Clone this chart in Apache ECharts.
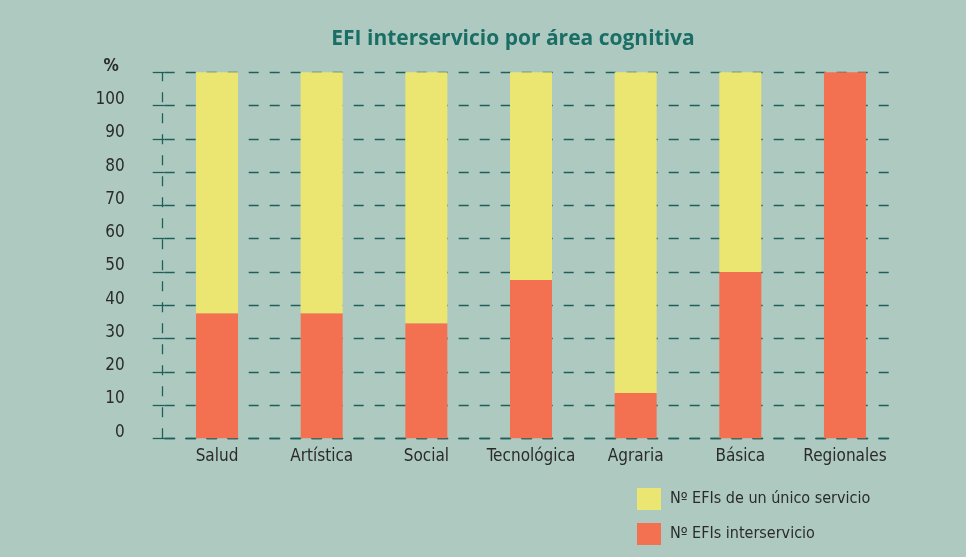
<!DOCTYPE html>
<html>
<head>
<meta charset="utf-8">
<script src="https://cdn.jsdelivr.net/npm/echarts@6/dist/echarts.min.js"></script>
<style>
html,body{margin:0;padding:0;background:#aecac0;}
#c{width:966px;height:557px;}
</style>
</head>
<body>
<div id="c"></div>
<script>
const categories = ['Salud','Artística','Social','Tecnológica','Agraria','Básica','Regionales'];
const interservicio = [37.6, 37.6, 34.6, 47.6, 13.6, 50, 110];
const unicoServicio = [72.4, 72.4, 75.4, 62.4, 96.4, 60, 0];
const yTickLabels = ['0','10','20','30','40','50','60','70','80','90','100','%'];

const FONT = '"Liberation Sans Narrow","DejaVu Sans Condensed","Roboto",sans-serif';
const grid = '#1f5f5a';
const chart = echarts.init(document.getElementById('c'));
chart.setOption({
  backgroundColor: '#aecac0',
  animation: false,
  title: {
    text: 'EFI interservicio por área cognitiva',
    left: 508, top: 24, textAlign: 'center',
    textStyle: {color: '#1b6e66', fontSize: 21, fontWeight: 'bold', fontFamily: '"Open Sans","Noto Sans",sans-serif'}
  },
  legend: {
    orient: 'vertical', left: 632, top: 483,
    itemWidth: 24, itemHeight: 22, itemGap: 13,
    icon: 'rect',
    data: ['Nº EFIs de un único servicio','Nº EFIs interservicio'],
    textStyle: {color: '#2b2b2b', fontSize: 16, fontFamily: FONT, padding: [0,0,0,4]}
  },
  grid: {left: 164.7, right: 68.7, top: 72.3, bottom: 118.7},
  xAxis: {
    type: 'category', data: categories,
    axisLine: {show: true, lineStyle: {color: grid, width: 1.3, type: [10,11]}},
    axisTick: {show: false},
    axisLabel: {color: '#2b2b2b', fontSize: 17, fontFamily: FONT, margin: 10, interval: 0}
  },
  yAxis: {
    type: 'value', min: 0, max: 110, interval: 10,
    axisLine: {show: false},
    axisTick: {show: true, length: 12, lineStyle: {color: grid, width: 1.3}},
    axisLabel: {
      color: '#2b2b2b', fontSize: 17, fontFamily: FONT, margin: 40,
      padding: [0,0,12,0],
      formatter: function(v){
        const t = yTickLabels[Math.round(v/10)];
        return t === '%' ? '{p|' + t + '}' : t;
      },
      rich: {p: {fontWeight: 'bold', fontSize: 17, fontFamily: FONT, color: '#2b2b2b', padding: [0,6,0,0]}}
    },
    splitLine: {show: true, lineStyle: {color: grid, width: 1.3, type: [10,11]}}
  },
  series: [
    {name: 'Nº EFIs interservicio', type: 'bar', stack: 'a', data: interservicio, barWidth: 42,
      itemStyle: {color: '#f37151'}},
    {name: 'Nº EFIs de un único servicio', type: 'bar', stack: 'a', data: unicoServicio, barWidth: 42,
      itemStyle: {color: '#ebe571'}},
    {type: 'line', data: [], markLine: {silent: true, symbol: 'none', label: {show: false},
      lineStyle: {color: grid, width: 1.3, type: [10,11]}, data: [[{coord: [0,0], x: 162}, {coord: [0,110], x: 162}]]}}
  ]
});
</script>
</body>
</html>
